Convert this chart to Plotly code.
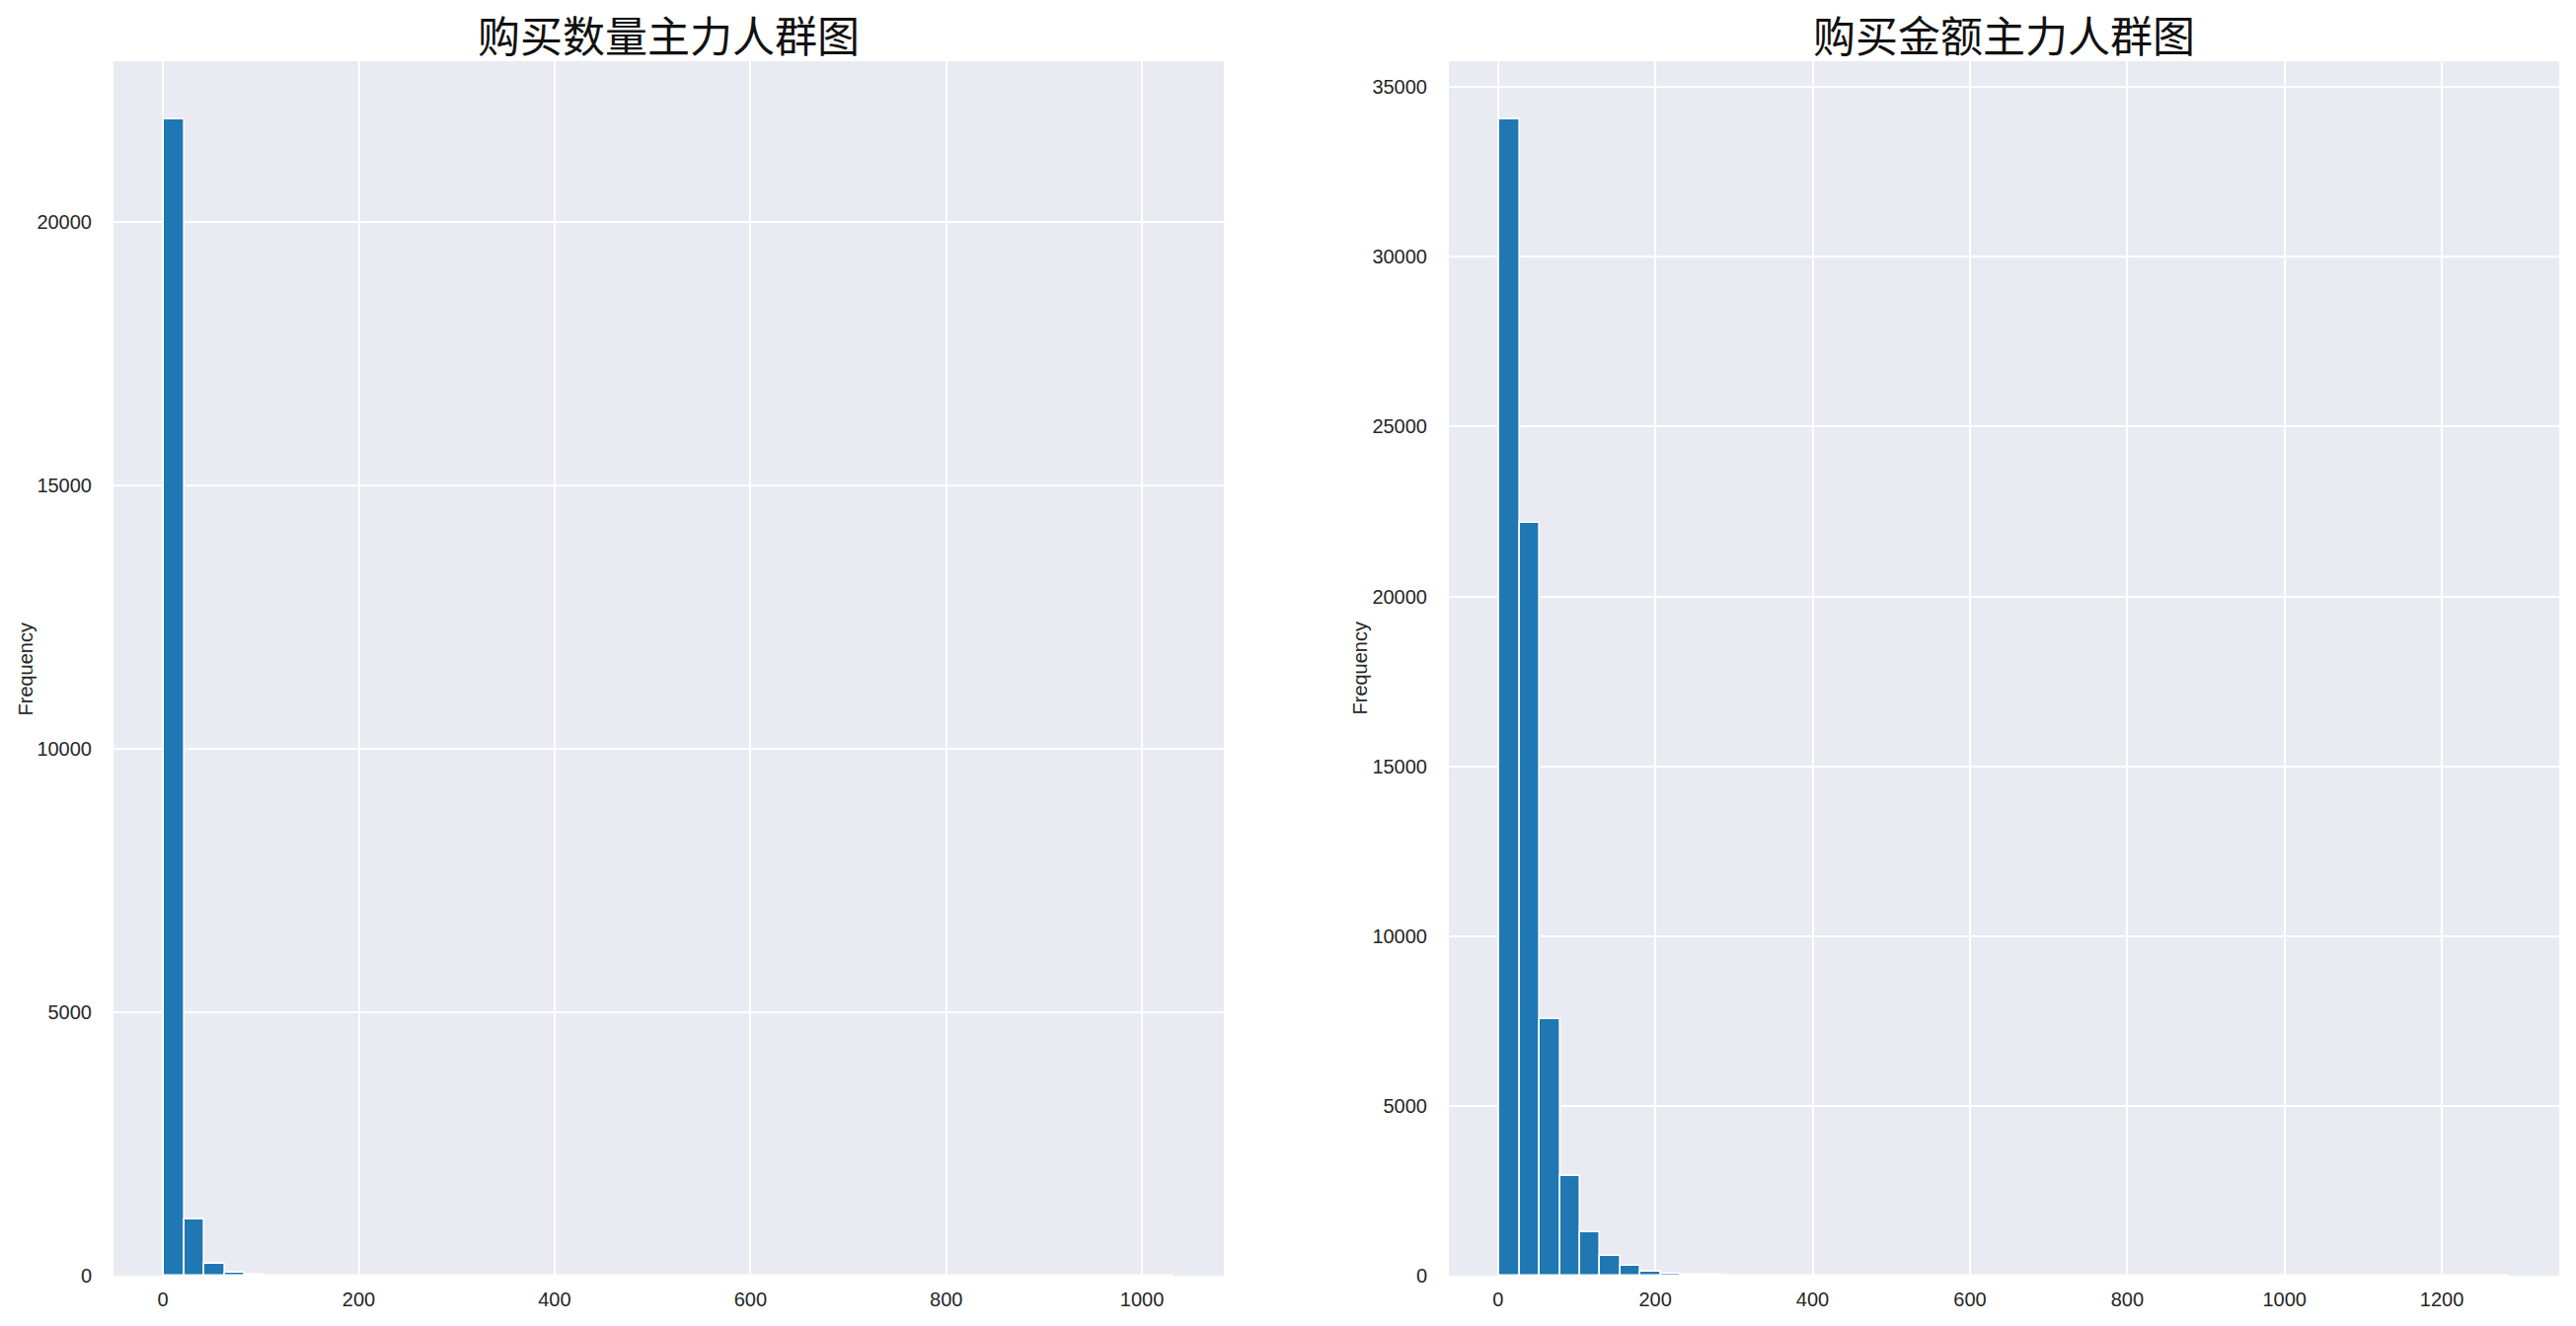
import numpy as np
import plotly.graph_objects as go

# ---------------- data ----------------
qty_title = "购买数量主力人群图"
amt_title = "购买金额主力人群图"
y_label = "Frequency"

# histogram of purchase quantity: 50 bins between min and max
qty_min, qty_max, qty_nbins = 1.0, 1032.0, 50
qty_counts = [21960, 1070, 232, 62, 20, 9, 5, 3, 2, 2,
              1, 1, 1, 0, 1, 0, 0, 1, 0, 0,
              0, 0, 0, 0, 0, 0, 0, 0, 0, 0,
              0, 0, 0, 0, 0, 0, 0, 0, 0, 0,
              0, 0, 0, 0, 0, 0, 0, 0, 0, 1]

# histogram of purchase amount: 50 bins between min and max
amt_min, amt_max, amt_nbins = 1.7, 1285.0, 50
amt_counts = [34060, 22170, 7550, 2930, 1270, 570, 300, 130, 70, 30,
              18, 10, 8, 5, 3, 2, 2, 1, 1, 1,
              0, 1, 0, 0, 0, 0, 0, 0, 0, 0,
              0, 0, 0, 0, 0, 0, 0, 0, 1, 0,
              0, 0, 0, 0, 0, 0, 0, 0, 0, 1]

qty_xticks = [0, 200, 400, 600, 800, 1000]
qty_yticks = [0, 5000, 10000, 15000, 20000]
amt_xticks = [0, 200, 400, 600, 800, 1000, 1200]
amt_yticks = [0, 5000, 10000, 15000, 20000, 25000, 30000, 35000]

# ---------------- figure ----------------
W, H = 2610, 1344
BAR = "#1f77b4"
BG = "#EAEAF2"
TXT = "#262626"
TICKFONT = dict(family="Liberation Sans, Arial, sans-serif", size=20, color=TXT)
TITLEFONT = dict(family="Noto Sans CJK SC, sans-serif", size=43, color="#111111")

def bins(lo, hi, n):
    edges = np.linspace(lo, hi, n + 1)
    return (edges[:-1] + edges[1:]) / 2, (hi - lo) / n

def padded(lo, hi):
    span = hi - lo
    return [lo - 0.05 * span, hi + 0.05 * span]

fig = go.Figure()

qc, qw = bins(qty_min, qty_max, qty_nbins)
ac, aw = bins(amt_min, amt_max, amt_nbins)

fig.add_trace(go.Bar(x=qc, y=qty_counts, width=qw, marker=dict(color=BAR, line=dict(color="white", width=1.6)),
                     xaxis="x", yaxis="y", showlegend=False))
fig.add_trace(go.Bar(x=ac, y=amt_counts, width=aw, marker=dict(color=BAR, line=dict(color="white", width=1.6)),
                     xaxis="x2", yaxis="y2", showlegend=False))

L_dom = [115 / W, 1240 / W]
R_dom = [1468 / W, 2593 / W]
Y_dom = [1 - 1293 / H, 1 - 62 / H]

common_x = dict(showgrid=True, gridcolor="white", gridwidth=1.6, zeroline=False, showline=False,
                ticks="", tickfont=TICKFONT, ticklabelstandoff=10, tickmode="array", automargin=False)
common_y = dict(showgrid=True, gridcolor="white", gridwidth=1.6, zeroline=False, showline=False,
                ticks="", tickfont=TICKFONT, ticklabelstandoff=21, tickmode="array", automargin=False)

fig.update_layout(
    width=W, height=H, autosize=False,
    margin=dict(l=0, r=0, t=0, b=0, pad=0),
    paper_bgcolor="white",
    plot_bgcolor=BG,
    bargap=0,
    xaxis=dict(domain=L_dom, anchor="y", range=padded(qty_min, qty_max),
               tickvals=qty_xticks, ticktext=[str(v) for v in qty_xticks], **common_x),
    yaxis=dict(domain=Y_dom, anchor="x", range=[0, max(qty_counts) * 1.05],
               tickvals=qty_yticks, ticktext=[str(v) for v in qty_yticks], **common_y),
    xaxis2=dict(domain=R_dom, anchor="y2", range=padded(amt_min, amt_max),
                tickvals=amt_xticks, ticktext=[str(v) for v in amt_xticks], **common_x),
    yaxis2=dict(domain=Y_dom, anchor="x2", range=[0, max(amt_counts) * 1.05],
                tickvals=amt_yticks, ticktext=[str(v) for v in amt_yticks], **common_y),
)

annotations = [
    dict(text=qty_title, x=(L_dom[0] + L_dom[1]) / 2, y=1 - 34 / H, xref="paper", yref="paper",
         xanchor="center", yanchor="middle", showarrow=False, font=TITLEFONT),
    dict(text=amt_title, x=(R_dom[0] + R_dom[1]) / 2, y=1 - 34 / H, xref="paper", yref="paper",
         xanchor="center", yanchor="middle", showarrow=False, font=TITLEFONT),
    dict(text=y_label, x=25 / W, y=(Y_dom[0] + Y_dom[1]) / 2, xref="paper", yref="paper",
         xanchor="center", yanchor="middle", showarrow=False, textangle=-90, font=TICKFONT),
    dict(text=y_label, x=1377 / W, y=(Y_dom[0] + Y_dom[1]) / 2, xref="paper", yref="paper",
         xanchor="center", yanchor="middle", showarrow=False, textangle=-90, font=TICKFONT),
]
fig.update_layout(annotations=annotations)

fig.write_html("out.html",
               config={"displayModeBar": False, "responsive": False},
               post_script="document.body.style.margin='0px';document.body.style.overflow='hidden';")
